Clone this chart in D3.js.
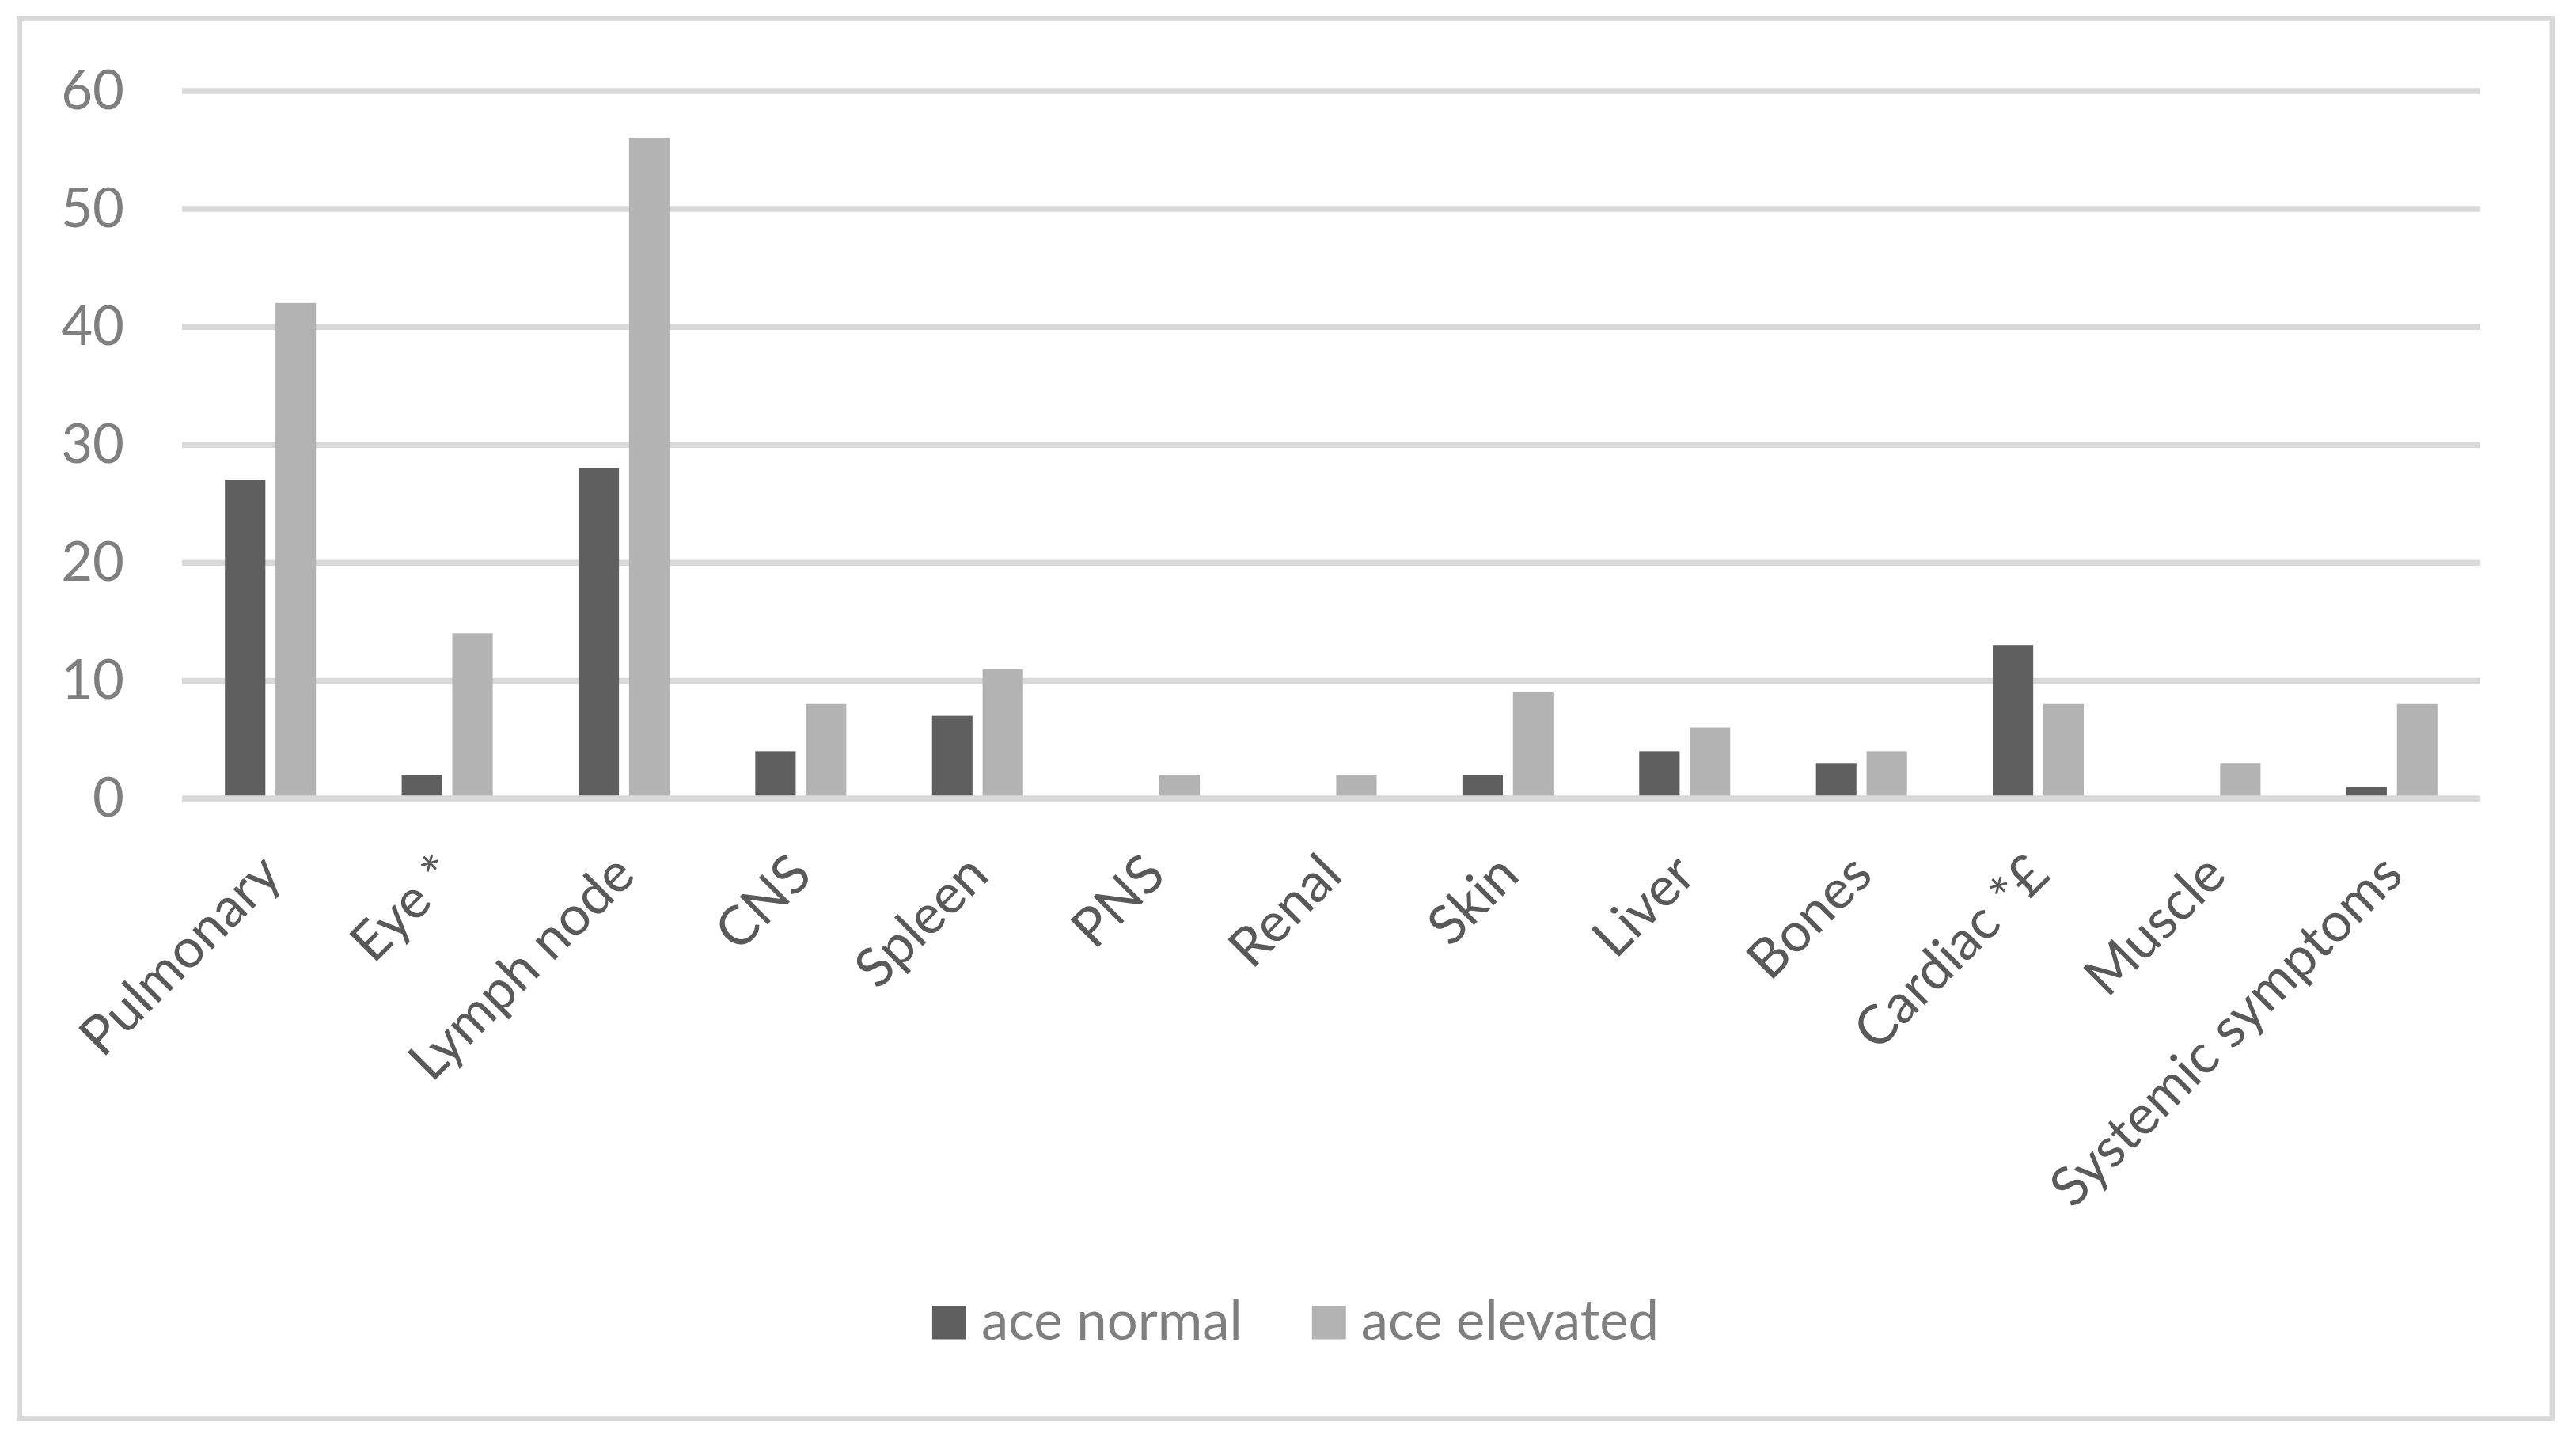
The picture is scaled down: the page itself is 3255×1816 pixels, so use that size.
<!DOCTYPE html>
<html>
<head>
<meta charset="utf-8">
<script src="https://cdn.jsdelivr.net/npm/d3@7"></script>
<style>
  html, body { margin: 0; padding: 0; background: #ffffff; }
  svg { display: block; }
</style>
</head>
<body>
<script>
// ---- Data ----
const categories = ["Pulmonary", "Eye *", "Lymph node", "CNS", "Spleen", "PNS", "Renal", "Skin", "Liver", "Bones", "Cardiac *£", "Muscle", "Systemic symptoms"];
const seriesNames = ["ace normal", "ace elevated"];
const aceNormal   = [27, 2, 28, 4, 7, 0, 0, 2, 4, 3, 13, 0, 1];
const aceElevated = [42, 14, 56, 8, 11, 2, 2, 9, 6, 4, 8, 3, 8];
const yTicks = [0, 10, 20, 30, 40, 50, 60];

// ---- Layout / style ----
const W = 3255, H = 1816;
const FONT = "Lato, 'Open Sans', 'Liberation Sans', sans-serif";
const colors = { "ace normal": "#5f5f5f", "ace elevated": "#b3b3b3" };
const gridColor = "#d9d9d9";

const svg = d3.select("body").append("svg")
  .attr("width", W).attr("height", H)
  .attr("viewBox", `0 0 ${W} ${H}`);

svg.append("rect").attr("width", W).attr("height", H).attr("fill", "#fff");

// chart border
svg.append("rect")
  .attr("x", 24.5).attr("y", 23.5)
  .attr("width", 3225 - 24.5).attr("height", 1792.5 - 23.5)
  .attr("fill", "none").attr("stroke", gridColor).attr("stroke-width", 7);

// fit font size so that text widths match the reference (Calibri-like metrics)
function fitSize(str, target) {
  const t = svg.append("text").attr("font-family", FONT).attr("font-size", 100).text(str);
  const w = t.node().getComputedTextLength();
  t.remove();
  return 100 * target / w;
}
const fs = (fitSize("ace normal", 332) + fitSize("Pulmonary", 321) + fitSize("ace elevated", 378)) / 3;

const plotL = 230, plotR = 3134, yTop = 114.5, yBot = 1009;

const x0 = d3.scaleBand().domain(categories).range([plotL, plotR]).padding(0);
const groupW = 115;
const x1 = d3.scaleBand().domain(seriesNames).range([0, groupW]).paddingInner(0.2).paddingOuter(0);
const y = d3.scaleLinear().domain([0, 60]).range([yBot, yTop]);

// gridlines via axis
const yAxis = d3.axisLeft(y).tickValues(yTicks).tickSize(-(plotR - plotL)).tickFormat(d3.format("d"));
const gy = svg.append("g").attr("transform", `translate(${plotL},0)`).call(yAxis);
gy.select(".domain").remove();
gy.selectAll(".tick line").attr("stroke", gridColor).attr("stroke-width", 7.5);
gy.selectAll(".tick text")
  .attr("x", -(plotL - 157))
  .attr("dy", "0.33em")
  .attr("fill", "#7f7f7f")
  .attr("font-family", FONT)
  .attr("font-size", fs)
  .attr("text-anchor", "end");

// bars
const rows = categories.map((c, i) => ({ cat: c, values: [
  { key: seriesNames[0], value: aceNormal[i] },
  { key: seriesNames[1], value: aceElevated[i] }
]}));

const groups = svg.append("g").selectAll("g").data(rows).join("g")
  .attr("transform", d => `translate(${x0(d.cat) + (x0.bandwidth() - groupW) / 2},0)`);

groups.selectAll("rect").data(d => d.values.filter(v => v.value > 0)).join("rect")
  .attr("x", d => x1(d.key))
  .attr("width", x1.bandwidth())
  .attr("y", d => y(d.value))
  .attr("height", d => y(0) - y(d.value))
  .attr("fill", d => colors[d.key]);

// baseline on top of bars
svg.append("line")
  .attr("x1", plotL).attr("x2", plotR)
  .attr("y1", y(0)).attr("y2", y(0))
  .attr("stroke", gridColor).attr("stroke-width", 7.5);

// category labels (rotated -45°)
const xAxis = d3.axisBottom(x0).tickSize(0);
const gx = svg.append("g").attr("transform", `translate(0,${y(0)})`).call(xAxis);
gx.select(".domain").remove();
gx.selectAll(".tick text")
  .attr("font-family", FONT)
  .attr("font-size", fs)
  .attr("fill", "#595959")
  .attr("text-anchor", "end")
  .attr("y", 0)
  .attr("dy", "0.35em")
  .attr("transform", `translate(0,${1092 - yBot}) rotate(-45)`);

// legend
const legend = svg.append("g");
const sq = 43, gapText = 19, gapItem = 88, legY = 1672;
const widths = seriesNames.map(s => {
  const t = svg.append("text").attr("font-family", FONT).attr("font-size", fs).text(s);
  const w = t.node().getComputedTextLength(); t.remove(); return w;
});
const totalW = widths.reduce((a, w) => a + sq + gapText + w, 0) + gapItem * (seriesNames.length - 1);
let lx = 1637 - totalW / 2;
seriesNames.forEach((s, i) => {
  legend.append("rect").attr("x", lx).attr("y", legY - sq / 2).attr("width", sq).attr("height", sq - 1)
    .attr("fill", colors[s]);
  legend.append("text").attr("x", lx + sq + gapText).attr("y", 1693)
    .attr("font-family", FONT).attr("font-size", fs).attr("fill", "#7f7f7f").text(s);
  lx += sq + gapText + widths[i] + gapItem;
});
</script>
</body>
</html>
